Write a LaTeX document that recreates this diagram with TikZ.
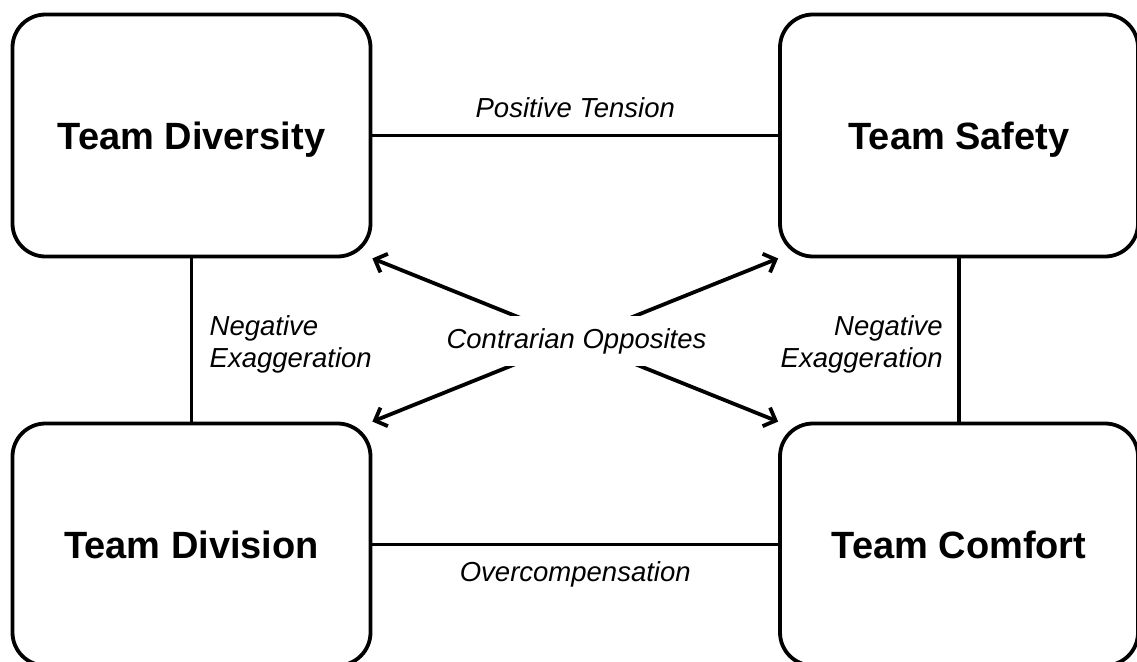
\documentclass[tikz,border=0pt]{standalone}
\usepackage{fontspec}
\setmainfont{Liberation Sans}
\usetikzlibrary{arrows.meta,positioning}

\begin{document}
\begin{tikzpicture}[x=1pt,y=-1pt,line width=3.8pt,
	>={Straight Barb[length=10pt,width=20pt]},
	box/.style={draw,rounded corners=33pt,minimum width=358pt,minimum height=242pt,text depth=0pt,font=\fontsize{38}{45}\selectfont\bfseries},
	lab/.style={font=\fontsize{27.5}{32}\selectfont\itshape}]
	\useasboundingbox (0,0) rectangle (1137,661);
	\node[box] (TD) at (191.5,135.5) {Team Diversity};
	\node[box] (TS) at (959,135.5) {Team Safety};
	\node[box] (TV) at (191.5,544.5) {Team Division};
	\node[box] (TC) at (959,544.5) {Team Comfort};
	\draw (TD) to node [lab,above=12pt] {Positive Tension} (TS);
	\draw (TV) to node [lab,below=12pt] {Overcompensation} (TC);
	\draw (TD) to node [lab,right=13pt,align=left,yshift=-4pt] {Negative\\Exaggeration} (TV);
	\draw (TS) to node [lab,left=11pt,align=right,yshift=-4pt] {Negative\\Exaggeration} (TC);
	\draw[<->] (TD.south east) to (TC.north west);
	\draw[<->] (TS.south west) to (TV.north east);
	\node[lab,fill=white,inner ysep=12pt] (CO) at (576.5,341) {Contrarian Opposites};
\end{tikzpicture}
\end{document}
